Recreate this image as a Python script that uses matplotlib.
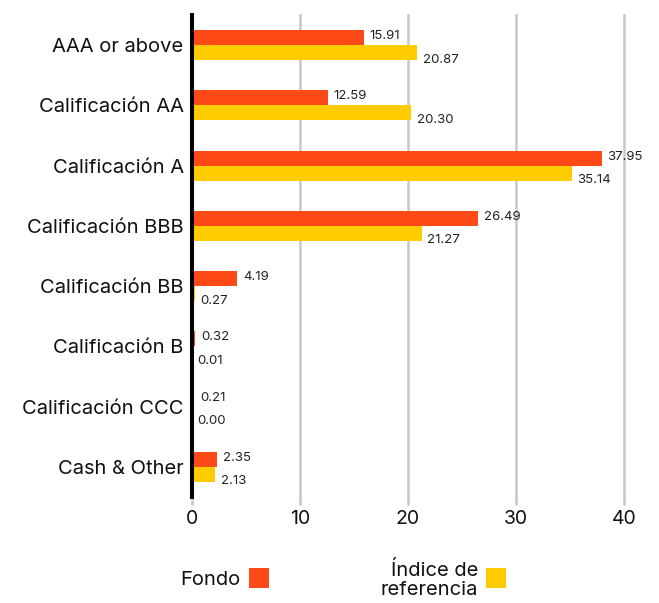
import matplotlib
matplotlib.use("Agg")
import matplotlib.pyplot as plt
from matplotlib.patches import Rectangle

plt.rcParams['font.family'] = ['Inter', 'DejaVu Sans']

categories = ["AAA or above", "Calificación AA", "Calificación A", "Calificación BBB",
              "Calificación BB", "Calificación B", "Calificación CCC", "Cash & Other"]
fondo = [15.91, 12.59, 37.95, 26.49, 4.19, 0.32, 0.21, 2.35]
indice = [20.87, 20.30, 35.14, 21.27, 0.27, 0.01, 0.00, 2.13]
series_names = ["Fondo", "Índice de\nreferencia"]
xticks = [0, 10, 20, 30, 40]

c_fondo = "#FF4A17"
c_indice = "#FFCC00"

fig = plt.figure(figsize=(6.59, 6.03), dpi=100)
ax = fig.add_axes([192/659, 1-497/603, (624-192)/659, (497-15)/603])

y = list(range(len(categories)))
h = 0.25
ax.barh([i - h/2 for i in y], fondo, height=h, color=c_fondo, zorder=3)
ax.barh([i + h/2 for i in y], indice, height=h, color=c_indice, zorder=3)

for i, (f, ind) in enumerate(zip(fondo, indice)):
    ax.annotate(f"{f:.2f}", (f, i - h/2), xytext=(4, 1), textcoords="offset points",
                ha="left", va="center", fontsize=9.5, color="#222222")
    ax.annotate(f"{ind:.2f}", (ind, i + h/2), xytext=(4, -5), textcoords="offset points",
                ha="left", va="center", fontsize=9.5, color="#222222")

ax.set_xlim(0, 40)
ax.set_ylim(len(categories) - 0.5, -0.5)
ax.set_yticks(y)
ax.set_yticklabels(categories, fontsize=14.5, color="#111111")
ax.set_xticks(xticks)
ax.set_xticklabels([str(t) for t in xticks], fontsize=14, color="#111111")
ax.tick_params(axis="y", length=0, pad=6)
ax.tick_params(axis="x", length=6, width=1.8, color="#c8c8c8", pad=3)
ax.xaxis.grid(True, color="#c8c8c8", linewidth=1.8, zorder=0)
for i, gl in enumerate(ax.get_xgridlines()):
    gl.set_clip_on(False)
    if i == 0:
        gl.set_visible(False)
for s in ["top", "right", "bottom"]:
    ax.spines[s].set_visible(False)
ax.spines["left"].set_linewidth(2.9)
ax.spines["left"].set_color("black")
ax.spines["left"].set_zorder(5)

# legend
W, H = 659, 603
def fx(px): return px / W
def fy(py): return 1 - py / H
fig.patches.append(Rectangle((fx(249), fy(588)), 20/W, 20/H, transform=fig.transFigure,
                             facecolor=c_fondo, edgecolor="none"))
fig.patches.append(Rectangle((fx(486), fy(588)), 20/W, 20/H, transform=fig.transFigure,
                             facecolor=c_indice, edgecolor="none"))
fig.text(fx(241), fy(580), series_names[0], ha="right", va="center", fontsize=14.5, color="#111111")
fig.text(fx(478), fy(580), series_names[1], ha="right", va="center", fontsize=14.5,
         color="#111111", multialignment="right", linespacing=1.05)

fig.savefig("out.png", dpi=100)
